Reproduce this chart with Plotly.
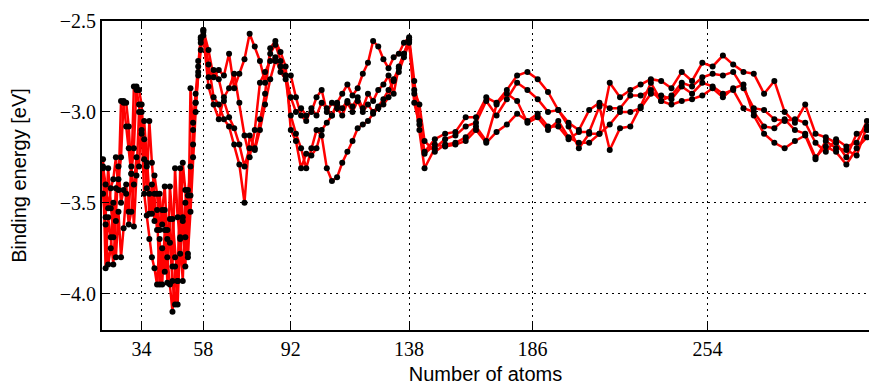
import plotly.graph_objects as go

# Cluster sizes (number of atoms)
atoms = [
    19, 20, 21, 22, 23, 24, 25, 26, 27, 28, 29, 30, 31, 32, 33, 34, 35, 36, 37, 38,
    39, 40, 41, 42, 43, 44, 45, 46, 47, 48, 49, 50, 51, 52, 53, 54, 55, 56, 57,
    58, 60, 62, 64, 66, 68, 70, 72, 74, 76, 78, 80, 82, 84, 86, 88, 90, 92, 94, 96,
    98, 100, 102, 104, 106, 108, 110, 112, 114, 116, 118, 120, 122, 124, 126, 128,
    130, 132, 134, 136, 138,
    140, 142, 144, 148, 152, 156, 160, 164, 168, 172, 176, 180, 184, 188, 192, 196,
    200, 204, 208, 212, 216, 220, 224, 228, 232, 236, 240, 244, 248, 252, 256, 260,
    264, 268, 272, 276, 280, 284, 288, 292, 296, 300, 304, 308, 312, 316,
]

# Binding energies [eV] for four cluster families
energy_a = [
    -3.26, -3.58, -3.31, -3.53, -3.69, -3.42, -3.37, -3.25, -2.94, -2.95,
    -3.08, -3.34, -3.20, -2.86, -2.88, -2.96, -3.26, -3.42, -3.05, -3.28,
    -3.45, -3.65, -3.45, -3.62, -3.54, -3.94, -3.41, -3.59, -3.80, -3.93,
    -3.31, -3.58, -3.69, -3.43, -3.46, -3.06, -2.90, -2.72, -2.59,
    -2.55, -2.66, -2.81, -2.77, -2.80, -2.68, -2.87, -2.79, -2.71, -2.57,
    -2.64, -2.72, -2.84, -2.68, -2.63, -2.72, -2.80, -2.80, -2.92, -3.02,
    -3.05, -2.98, -3.02, -2.95, -2.98, -3.02, -2.95, -2.90, -2.85, -2.91,
    -2.87, -2.79, -2.73, -2.61, -2.64, -2.71, -2.76, -2.70, -2.68, -2.62, -2.59,
    -2.83, -3.05, -3.22, -3.15, -3.12, -3.11, -3.03, -3.03, -2.92, -2.95,
    -2.88, -2.80, -2.78, -2.82, -2.89, -2.99, -3.08, -3.20, -3.12, -3.12,
    -2.84, -2.92, -2.88, -2.85, -2.82, -2.83, -2.87, -2.78, -2.83, -2.73,
    -2.75, -2.69, -2.74, -2.78, -2.79, -2.90, -2.83, -3.00, -3.06, -2.96,
    -3.12, -3.14, -3.17, -3.25, -3.12, -3.10,
]
energy_b = [
    -3.31, -3.86, -3.58, -3.69, -3.84, -3.60, -3.30, -3.50, -3.43, -3.40,
    -3.55, -3.30, -3.63, -3.35, -3.00, -3.10, -3.45, -3.57, -3.70, -3.80,
    -3.86, -3.95, -3.70, -3.95, -3.65, -3.80, -3.95, -4.10, -3.85, -4.06,
    -3.70, -3.93, -3.50, -3.78, -3.55, -3.25, -3.00, -2.78, -2.62,
    -2.55, -2.74, -2.92, -2.96, -3.04, -3.08, -3.18, -3.29, -3.50, -3.13,
    -3.20, -3.04, -2.90, -2.65, -2.61, -2.67, -2.75, -3.10, -3.16, -3.31,
    -3.23, -3.24, -3.20, -3.10, -3.06, -3.02, -2.96, -2.98, -2.94, -2.97,
    -2.92, -2.98, -2.90, -2.94, -2.88, -2.85, -2.80, -2.90, -2.75, -2.68, -2.61,
    -2.90, -3.10, -3.31, -3.20, -3.15, -3.13, -3.08, -3.06, -2.94, -3.02,
    -2.93, -2.84, -2.88, -2.93, -3.00, -2.99, -3.06, -3.10, -2.99, -2.95,
    -2.98, -2.98, -2.91, -2.91, -2.88, -2.94, -2.91, -2.84, -2.86, -2.81,
    -2.79, -2.80, -2.78, -2.87, -2.98, -2.99, -3.04, -3.05, -3.04, -3.06,
    -3.17, -3.22, -3.15, -3.19, -3.17, -3.05,
]
energy_c = [
    -3.45, -3.62, -3.84, -3.75, -3.50, -3.80, -3.55, -3.80, -3.64, -3.45,
    -3.62, -3.55, -3.40, -3.25, -3.30, -3.00, -3.15, -3.30, -3.56, -3.40,
    -3.60, -3.54, -3.95, -3.75, -3.88, -3.65, -3.72, -3.93, -4.06, -3.93,
    -3.78, -3.60, -3.85, -3.46, -3.30, -3.18, -2.95, -2.75, -2.60,
    -2.56, -2.81, -2.77, -2.82, -2.94, -3.03, -3.09, -3.18, -3.30, -3.20,
    -3.21, -3.10, -2.96, -2.82, -2.72, -2.75, -2.80, -2.92, -3.00, -2.98,
    -3.02, -3.00, -2.92, -2.88, -3.00, -2.95, -2.98, -3.02, -2.95, -3.00,
    -2.94, -3.00, -2.96, -3.00, -2.97, -2.93, -2.88, -2.83, -2.78, -2.70, -2.62,
    -2.88, -2.96, -3.16, -3.22, -3.18, -3.17, -3.14, -3.08, -3.16, -2.96,
    -2.90, -2.94, -3.06, -3.03, -3.10, -3.05, -3.14, -3.17, -3.17, -3.12,
    -3.07, -3.00, -3.00, -2.98, -2.90, -2.91, -2.93, -2.86, -2.90, -2.84,
    -2.86, -2.90, -2.88, -2.98, -3.00, -3.08, -3.09, -3.04, -3.10, -3.12,
    -3.25, -3.19, -3.22, -3.29, -3.20, -3.14,
]
energy_d = [
    -3.30, -3.40, -3.53, -3.42, -3.37, -3.25, -3.43, -2.94, -2.95, -3.08,
    -3.20, -3.34, -2.86, -2.88, -2.96, -3.12, -3.05, -3.28, -3.45, -3.56,
    -3.35, -3.45, -3.65, -3.54, -3.41, -3.70, -3.59, -3.85, -3.31, -3.58,
    -3.69, -3.28, -3.43, -3.80, -2.87, -3.10, -2.95, -2.80, -2.66,
    -2.58, -2.86, -2.96, -3.04, -2.92, -2.87, -2.79, -2.95, -3.13, -3.25,
    -3.10, -2.84, -2.78, -2.72, -2.70, -2.78, -2.82, -3.02, -3.12, -3.20,
    -3.31, -3.20, -3.10, -3.13, -3.31, -3.38, -3.36, -3.28, -3.22, -3.16,
    -3.09, -3.07, -3.05, -3.01, -2.98, -2.96, -2.92, -2.82, -2.76, -2.68, -2.60,
    -2.95, -3.07, -3.23, -3.18, -3.19, -3.18, -3.16, -3.10, -3.17, -3.11,
    -3.07, -3.01, -3.05, -3.01, -3.08, -3.08, -3.15, -3.11, -3.11, -2.97,
    -3.21, -3.09, -3.08, -2.97, -2.84, -2.94, -2.96, -2.94, -2.93, -2.91,
    -2.87, -2.92, -2.87, -2.85, -3.02, -3.12, -3.17, -3.20, -3.16, -3.13,
    -3.26, -3.16, -3.20, -3.21, -3.24, -3.08,
]

x_ticks = [34, 58, 92, 138, 186, 254]
y_ticks = [-4.0, -3.5, -3.0, -2.5]

families = [energy_a, energy_b, energy_c, energy_d]

fig = go.Figure()

# red connecting lines first, black points drawn on top of all of them
for ys in families:
    fig.add_trace(go.Scatter(
        x=atoms, y=ys, mode="lines",
        line=dict(color="#ff0000", width=2.5),
        showlegend=False, hoverinfo="skip",
    ))
for ys in families:
    fig.add_trace(go.Scatter(
        x=atoms, y=ys, mode="markers",
        marker=dict(color="black", size=6, line=dict(width=0)),
        showlegend=False,
    ))

tick_font = dict(family="Liberation Serif, DejaVu Serif, serif", size=20, color="black")
title_font = dict(family="Liberation Sans, Arial, sans-serif", size=20, color="black")

fig.update_layout(
    width=869, height=385,
    margin=dict(l=102, r=0, t=21, b=55),
    paper_bgcolor="white", plot_bgcolor="white",
    showlegend=False,
)

fig.update_xaxes(
    range=[18.6, 316.8],
    tickmode="array", tickvals=x_ticks, ticktext=[str(v) for v in x_ticks],
    ticks="inside", ticklen=7, tickwidth=1, tickcolor="black",
    showline=True, linewidth=2, linecolor="black", mirror="ticks",
    showgrid=True, gridcolor="black", gridwidth=1, griddash="2px,4px",
    zeroline=False,
    tickfont=tick_font,
    title=dict(text="Number of atoms", font=title_font, standoff=8),
)
fig.update_yaxes(
    range=[-4.2, -2.5],
    tickmode="array", tickvals=y_ticks, tickformat=".1f",
    ticks="inside", ticklen=7, tickwidth=1, tickcolor="black",
    showline=True, linewidth=2, linecolor="black", mirror=False,
    showgrid=True, gridcolor="black", gridwidth=1, griddash="2px,4px",
    zeroline=False,
    tickfont=tick_font,
    title=dict(text="Binding energy [eV]", font=title_font, standoff=28),
)

fig.write_html("out.html")
